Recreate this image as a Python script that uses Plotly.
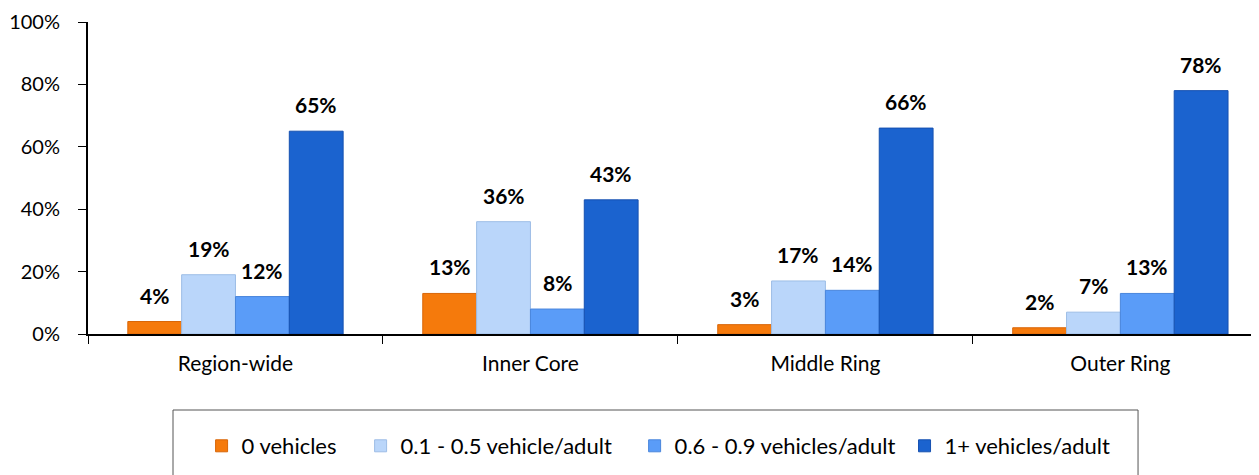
import plotly.graph_objects as go

categories = ["Region-wide", "Inner Core", "Middle Ring", "Outer Ring"]
series_names = ["0 vehicles", "0.1 - 0.5 vehicle/adult", "0.6 - 0.9 vehicles/adult", "1+ vehicles/adult"]
zero_veh = [4, 13, 3, 2]
low_veh = [19, 36, 17, 7]
mid_veh = [12, 8, 14, 13]
high_veh = [65, 43, 66, 78]
colors = ["#F57A0C", "#BAD6FA", "#5A9CF8", "#1B63CF"]
edge_colors = ["#D86608", "#9DBDE6", "#4A86DC", "#1550B0"]

W, H = 1259, 475
ml, mr, mt, mb = 80, 8, 14, 149
x_range = [-0.5, 3.47]
bargap = 0.27
legend_x = [0.097, 0.2328, 0.4668, 0.6973]  # one legend per series, spaced like the original

fig = go.Figure()
all_vals = [zero_veh, low_veh, mid_veh, high_veh]
legend_ids = ["legend", "legend2", "legend3", "legend4"]
for name, vals, c, ec, lid in zip(series_names, all_vals, colors, edge_colors, legend_ids):
    fig.add_trace(go.Bar(
        x=categories, y=vals, name=name, legend=lid, showlegend=True,
        marker=dict(color=c, line=dict(color=ec, width=1)),
    ))

# value labels floating above each bar
cat_px = (W - ml - mr) / (x_range[1] - x_range[0])
bar_px = cat_px * (1 - bargap) / len(all_vals)
for i, vals in enumerate(all_vals):
    for cat, v in zip(categories, vals):
        fig.add_annotation(
            x=cat, y=v, text=f"<b>{v}%</b>", showarrow=False,
            xshift=(i - 1.5) * bar_px, yshift=12, yanchor="bottom",
            font=dict(size=21, color="black", family="Lato"),
        )

fig.add_shape(
    type="rect", xref="paper", yref="paper",
    x0=0.0726, x1=0.8967, y0=-0.2436, y1=-0.55,
    line=dict(color="#555555", width=1), fillcolor="rgba(0,0,0,0)",
)

legend_style = dict(
    orientation="h", y=-0.359, xanchor="left", yanchor="middle",
    borderwidth=0, bgcolor="rgba(0,0,0,0)", font=dict(size=22), visible=True,
)
fig.update_layout(
    width=W, height=H, showlegend=True,
    margin=dict(l=ml, r=mr, t=mt, b=mb, autoexpand=False),
    plot_bgcolor="white", paper_bgcolor="white",
    font=dict(family="Lato", size=20, color="black"),
    barmode="group", bargap=bargap, bargroupgap=0,
    legend=dict(x=legend_x[0], **legend_style),
    legend2=dict(x=legend_x[1], **legend_style),
    legend3=dict(x=legend_x[2], **legend_style),
    legend4=dict(x=legend_x[3], **legend_style),
)
fig.update_xaxes(
    range=x_range, showline=True, linecolor="black", linewidth=2,
    ticks="outside", tickson="boundaries", ticklen=8, tickcolor="black",
    showgrid=False, tickfont=dict(size=21), ticklabelstandoff=10,
)
fig.update_yaxes(
    range=[0, 100], tickvals=[0, 20, 40, 60, 80, 100],
    ticktext=["0%", "20%", "40%", "60%", "80%", "100%"],
    showline=True, linecolor="black", linewidth=2,
    ticks="outside", ticklen=8, tickcolor="black",
    showgrid=False, zeroline=False, ticklabelstandoff=14,
    tickfont=dict(size=20),
)

fig.write_html("out.html")
